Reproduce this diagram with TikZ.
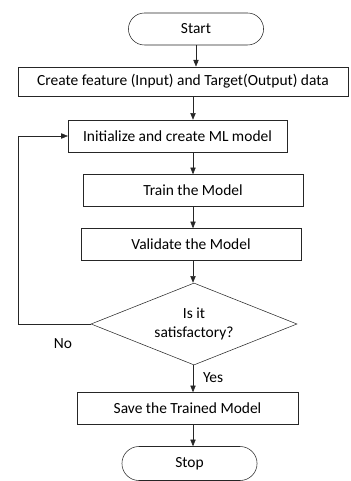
\documentclass[tikz,border=0pt]{standalone}
\usepackage{fontspec}
\setmainfont{Carlito}
\usetikzlibrary{shapes.geometric,shapes.misc,arrows.meta}

\tikzset{
  box/.style={draw=black!85, minimum height=24pt, inner sep=2pt, font=\fontsize{11.6}{13.5}\selectfont},
  term/.style={draw=black!85, rounded rectangle, minimum width=108pt, minimum height=24pt, font=\fontsize{11.6}{13.5}\selectfont},
  arr/.style={draw=black!85, -{Triangle[length=5pt,width=4pt]}},
  lbl/.style={font=\fontsize{11.6}{13.5}\selectfont},
}

\begin{document}
\begin{tikzpicture}[x=0.75pt,y=-0.75pt]
        \useasboundingbox (0,0) rectangle (350,481);
        % flow nodes
        \node[term] (start) at (196,29) {Start};
        \node[box, minimum width=247.5pt, minimum height=22pt] (create) at (183,81.5) {Create feature (Input) and Target(Output) data};
        \node[box, minimum width=164pt] (init) at (177.5,136) {Initialize and create ML model};
        \node[box, minimum width=165pt] (train) at (193,190.5) {Train the Model};
        \node[box, minimum width=165pt] (valid) at (191,244.5) {Validate the Model};
        \node[draw=black!85, diamond, aspect=2.5, minimum width=154.5pt, minimum height=61.5pt, inner sep=0pt, align=center,
              font=\fontsize{11.6}{14}\selectfont] (check) at (194,324) {Is it\\satisfactory?};
        \node[box, minimum width=166pt] (save) at (187.5,408.5) {Save the Trained Model};
        \node[term, minimum height=25.5pt] (stop) at (189.5,463.5) {Stop};

        % connectors
        \draw[arr] (start.south) -- (start.south |- create.north);
        \draw[arr] (create.south -| train) -- (init.north -| train);
        \draw[arr] (init.south -| train) -- (train.north);
        \draw[arr] (train.south) -- (valid.north -| train);
        \draw[arr] (valid.south -| train) -- (check.north -| train);
        \draw[arr] (check.south -| train) -- node[right=4pt, pos=0.45, lbl] (yes) {Yes} (save.north -| train);
        \draw[arr] (save.south -| train) -- (stop.north -| train);
        \draw[arr] (check.west) -- ++(-72,0) |- (init.west);
        \node[lbl] (no) at (63,344) {No};
\end{tikzpicture}
\end{document}
